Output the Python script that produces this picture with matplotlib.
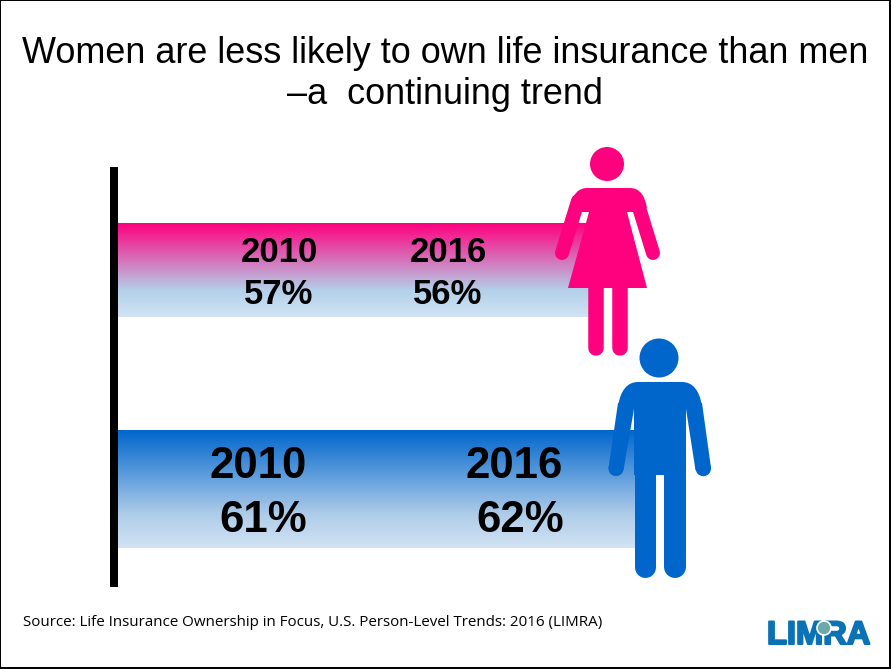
import matplotlib
matplotlib.use('Agg')
import matplotlib.pyplot as plt
import matplotlib.patheffects as pe
import numpy as np
from matplotlib.colors import LinearSegmentedColormap
from matplotlib.patches import Circle, PathPatch, Polygon, Rectangle
from matplotlib.path import Path

title = 'Women are less likely to own life insurance than men\n–a  continuing trend'
source = 'Source: Life Insurance Ownership in Focus, U.S. Person-Level Trends: 2016 (LIMRA)'
years = ['2010', '2016']
women = [57, 56]
men = [61, 62]

PINK = '#ff007f'
BLUE = '#0066cc'
W, H = 891, 669
PX_PER_PCT = 8.45
BAR_LEFT = 117

plt.rcParams['font.family'] = ['Liberation Sans', 'DejaVu Sans']
fig = plt.figure(figsize=(W / 100, H / 100), dpi=100)

# bars: x axis in percent, y in pixels
ax = fig.add_axes([0, 0, 1, 1])
ax.axis('off')


def gradient_bar(value, top, bottom, colors):
    bar = ax.barh((top + bottom) / 2, value, height=bottom - top, color='none')[0]
    cmap = LinearSegmentedColormap.from_list('bar', colors)
    im = ax.imshow(np.linspace(0, 1, 256).reshape(-1, 1), cmap=cmap, aspect='auto',
                   extent=(0, value, bottom, top), interpolation='bilinear')
    im.set_clip_path(bar)


gradient_bar(women[1], 223, 317, [(0, PINK), (0.72, '#b3d1ea'), (1, '#d2e3f4')])
gradient_bar(men[1], 430, 548, [(0, BLUE), (0.72, '#afcde9'), (1, '#d2e3f4')])
ax.set_xlim(-BAR_LEFT / PX_PER_PCT, (W - BAR_LEFT) / PX_PER_PCT)
ax.set_ylim(H, 0)

# everything else is laid out in pixels
ov = fig.add_axes([0, 0, 1, 1])
ov.set_xlim(0, W)
ov.set_ylim(H, 0)
ov.axis('off')
ov.patch.set_alpha(0)


def capsule(x0, y0, x1, y1, width, color):
    ov.plot([x0, x1], [y0, y1], color=color, lw=width * 0.72, solid_capstyle='round')


def shoulders(left, right, top, bottom, inset, color):
    # flat top with rounded corners running into the arms
    verts = [(left, bottom), (left + inset * 0.2, top), (left + inset, top),
             (right - inset, top), (right - inset * 0.2, top), (right, bottom), (left, bottom)]
    codes = [Path.MOVETO, Path.CURVE3, Path.CURVE3, Path.LINETO, Path.CURVE3, Path.CURVE3,
             Path.CLOSEPOLY]
    ov.add_patch(PathPatch(Path(verts, codes), fc=color, lw=0))


def woman(color):
    ov.add_patch(Circle((607, 164), 17, color=color, lw=0))
    shoulders(570, 647, 188, 208, 17, color)
    ov.add_patch(Polygon([(572, 205), (643, 205), (634, 212), (627, 212), (647, 288),
                          (568, 288), (589, 212), (581, 212)], color=color, lw=0))
    capsule(578, 201, 562, 253, 14, color)
    capsule(637, 201, 653, 253, 14, color)
    capsule(596, 280, 596, 348, 15.5, color)
    capsule(619.5, 280, 619.5, 348, 15.5, color)


def man(color):
    ov.add_patch(Circle((659, 358), 19.5, color=color, lw=0))
    shoulders(618, 702, 382, 406, 20, color)
    ov.add_patch(Rectangle((634, 400), 52, 75, color=color, lw=0))
    ov.add_patch(Polygon([(618, 403), (608.5, 468), (623.5, 470), (634, 409), (634, 403)],
                         color=color, lw=0))
    ov.add_patch(Polygon([(702, 403), (711, 468), (695.5, 470), (686, 409), (686, 403)],
                         color=color, lw=0))
    ov.add_patch(Circle((616, 468.5), 7.6, color=color, lw=0))
    ov.add_patch(Circle((703.3, 468.5), 7.7, color=color, lw=0))
    capsule(644.5, 470, 644.5, 567, 21, color)
    capsule(675, 470, 675, 567, 22, color)


woman(PINK)
man(BLUE)

# axis line and slide frame
ov.add_patch(Rectangle((110, 167), 7.5, 420, color='black', lw=0))
ov.add_patch(Rectangle((0, 0), W - 1, H - 1, fill=False, ec='black', lw=1.44, clip_on=False))

ov.text(445, 74, title, ha='center', va='center', fontsize=25.95, linespacing=1.22)

# value labels
label_x = [(279, 279), (448, 448)]
for (x_year, x_pct), year, pct in zip(label_x, years, women):
    ov.text(x_year, 253, year, ha='center', va='center', fontsize=25, fontweight='bold')
    ov.text(x_pct, 295, f'{pct}%', ha='center', va='center', fontsize=25, fontweight='bold')
label_x = [(258, 263), (514, 520)]
for (x_year, x_pct), year, pct in zip(label_x, years, men):
    ov.text(x_year, 467, year, ha='center', va='center', fontsize=31.5, fontweight='bold')
    ov.text(x_pct, 521, f'{pct}%', ha='center', va='center', fontsize=31.5, fontweight='bold')

ov.text(23, 623, source, ha='left', va='center', fontsize=10.9, family='Open Sans')

# logo
logo_blue = '#0b72b5'
ov.text(767, 644, 'LIMRA', ha='left', va='baseline', fontsize=23.5, fontweight='bold',
        color=logo_blue, path_effects=[pe.withStroke(linewidth=1.5, foreground=logo_blue)])
ov.add_patch(Circle((824, 628), 7, fc='#6fa8a8', ec='white', lw=1.2, zorder=5))

fig.savefig('out.png', dpi=100)
